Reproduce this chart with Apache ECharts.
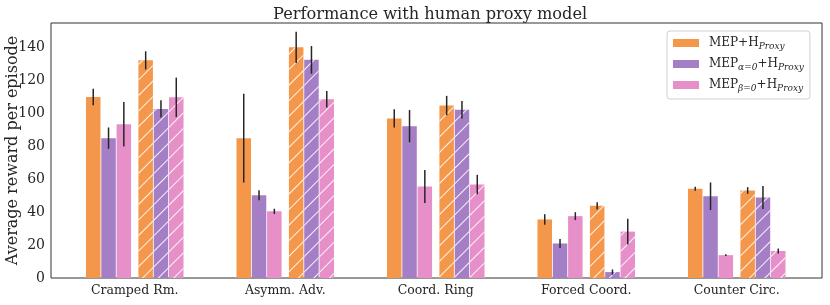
<!DOCTYPE html>
<html>
<head>
<meta charset="utf-8">
<script src="https://cdn.jsdelivr.net/npm/echarts@6/dist/echarts.min.js"></script>
<style>html,body{margin:0;padding:0;background:#fff}#c{width:830px;height:305px}</style>
</head>
<body>
<div id="c"></div>
<script>
const categories = ['Cramped Rm.', 'Asymm. Adv.', 'Coord. Ring', 'Forced Coord.', 'Counter Circ.'];
const yTicks = [0, 20, 40, 60, 80, 100, 120, 140];

// solid bars
const mep      = [110.0, 85.0, 97.0, 35.6, 54.3];
const mepErr   = [5.0, 27.0, 5.5, 3.2, 1.2];
const mepA     = [85.0, 50.3, 92.3, 21.0, 49.7];
const mepAErr  = [6.5, 3.0, 9.8, 2.7, 8.4];
const mepB     = [93.5, 40.5, 55.6, 37.6, 13.9];
const mepBErr  = [13.5, 1.6, 10.0, 2.4, 0.6];
// hatched bars
const mepH     = [132.3, 140.2, 104.8, 43.9, 53.2];
const mepHErr  = [5.5, 9.5, 5.9, 2.2, 2.0];
const mepAH    = [102.8, 132.6, 102.3, 3.6, 48.9];
const mepAHErr = [5.2, 8.4, 5.3, 1.6, 7.0];
const mepBH    = [109.8, 108.7, 56.8, 28.2, 16.4];
const mepBHErr = [12.0, 5.0, 5.9, 7.8, 1.5];

const legendNames = ['MEP+H_Proxy', 'MEP_a0+H_Proxy', 'MEP_b0+H_Proxy'];

const FONT = 'DejaVu Serif';
const COLORS = ['#F5974A', '#A57FC6', '#E68FC9'];
const BW = 14.5, SW = 6.2, GAP = 0.055;
const widths = [BW, BW, BW, SW, BW, BW, BW];
let sum = 0; widths.forEach(w => sum += w * (1 + GAP)); sum -= widths[6] * GAP;
const slotCenters = []; let off = -sum / 2;
widths.forEach(w => { slotCenters.push(off + w / 2); off += w * (1 + GAP); });

const hatch = { symbol: 'rect', symbolSize: 1, dashArrayX: [1, 0], dashArrayY: [1, 9.8], rotation: -Math.PI / 4, color: 'rgba(255,255,255,0.9)' };

const groups = [
  { name: legendNames[0], vals: mep, errs: mepErr, color: COLORS[0], slot: 0, hatched: false },
  { name: legendNames[1], vals: mepA, errs: mepAErr, color: COLORS[1], slot: 1, hatched: false },
  { name: legendNames[2], vals: mepB, errs: mepBErr, color: COLORS[2], slot: 2, hatched: false },
  { name: 'h0', vals: mepH, errs: mepHErr, color: COLORS[0], slot: 4, hatched: true },
  { name: 'h1', vals: mepAH, errs: mepAHErr, color: COLORS[1], slot: 5, hatched: true },
  { name: 'h2', vals: mepBH, errs: mepBHErr, color: COLORS[2], slot: 6, hatched: true }
];

const series = [];
groups.forEach((g, gi) => {
  series.push({
    type: 'bar', name: g.name, barWidth: BW, barGap: (GAP * 100) + '%',
    data: g.vals.slice(),
    itemStyle: g.hatched ? { color: g.color, decal: hatch } : { color: g.color },
    z: 2
  });
  if (gi === 2) {
    series.push({ type: 'bar', name: 'spacer', barWidth: SW, barGap: (GAP * 100) + '%', data: categories.map(() => '-') });
  }
});

const errData = [];
groups.forEach(g => g.vals.forEach((v, i) => errData.push([i, v, g.errs[i], g.slot])));
series.push({
  type: 'custom', name: 'err', z: 5,
  data: errData,
  encode: { x: 0, y: 1 },
  renderItem: function (params, api) {
    const x = api.value(0), v = api.value(1), e = api.value(2), s = api.value(3);
    const t = api.coord([x, v + e]), b = api.coord([x, v - e]);
    const px = t[0] + slotCenters[s];
    return { type: 'line', shape: { x1: px, y1: t[1], x2: px, y2: b[1] }, style: { stroke: '#262626', lineWidth: 1.5 } };
  }
});

const legendLabels = {
  'MEP+H_Proxy': '{g|}MEP+H{s|Proxy}',
  'MEP_a0+H_Proxy': '{g|}MEP{s|α=0}+H{s|Proxy}',
  'MEP_b0+H_Proxy': '{g|}MEP{s|β=0}+H{s|Proxy}'
};

const L0 = 59.5, R0 = 18;
const chart = echarts.init(document.getElementById('c'));
chart.setOption({
  animation: false,
  title: { text: 'Performance with human proxy model', left: 268, top: 2,
    textStyle: { fontFamily: FONT, fontSize: 16.2, fontWeight: 'normal', color: '#262626' } },
  grid: [
    { left: L0, right: R0, top: 23, bottom: 27, show: false, outerBoundsMode: 'none', containLabel: false },
    { left: 51, right: 8, top: 23, bottom: 27, show: true, borderColor: '#333', borderWidth: 1, backgroundColor: 'transparent', outerBoundsMode: 'none', containLabel: false }
  ],
  legend: {
    data: legendNames, orient: 'vertical', left: 667, top: 31,
    itemWidth: 26, itemHeight: 8, itemGap: 7,
    padding: [6, 6, 6, 6], borderColor: '#d0d0d0', borderWidth: 1, borderRadius: 3, backgroundColor: '#fff',
    icon: 'rect',
    formatter: n => legendLabels[n],
    textStyle: { fontFamily: FONT, fontSize: 12, color: '#262626',
      rich: {
        g: { width: 5 },
        s: { fontFamily: FONT, fontSize: 9, fontStyle: 'italic', color: '#262626', padding: [7, 0, 0, 0] }
      } }
  },
  xAxis: [
    { type: 'category', gridIndex: 0, data: categories,
      axisLine: { show: false }, axisTick: { show: false }, splitLine: { show: false },
      axisLabel: { margin: 6, fontFamily: FONT, fontSize: 12.5, color: '#262626' } },
    { type: 'value', gridIndex: 1, show: false, splitLine: { show: false } }
  ],
  yAxis: [
    { type: 'value', gridIndex: 0, min: 0, max: 155, interval: 20,
      name: 'Average reward per episode', nameLocation: 'middle', nameGap: 38.5, nameMoveOverlap: false,
      nameTextStyle: { fontFamily: FONT, fontSize: 16, color: '#262626' },
      axisLine: { show: false }, axisTick: { show: false }, splitLine: { show: false },
      axisLabel: { customValues: yTicks, margin: 6 + (L0 - 51), fontFamily: FONT, fontSize: 14, color: '#262626' } },
    { type: 'value', gridIndex: 1, show: false, splitLine: { show: false } }
  ],
  series: series
});
</script>
</body>
</html>
